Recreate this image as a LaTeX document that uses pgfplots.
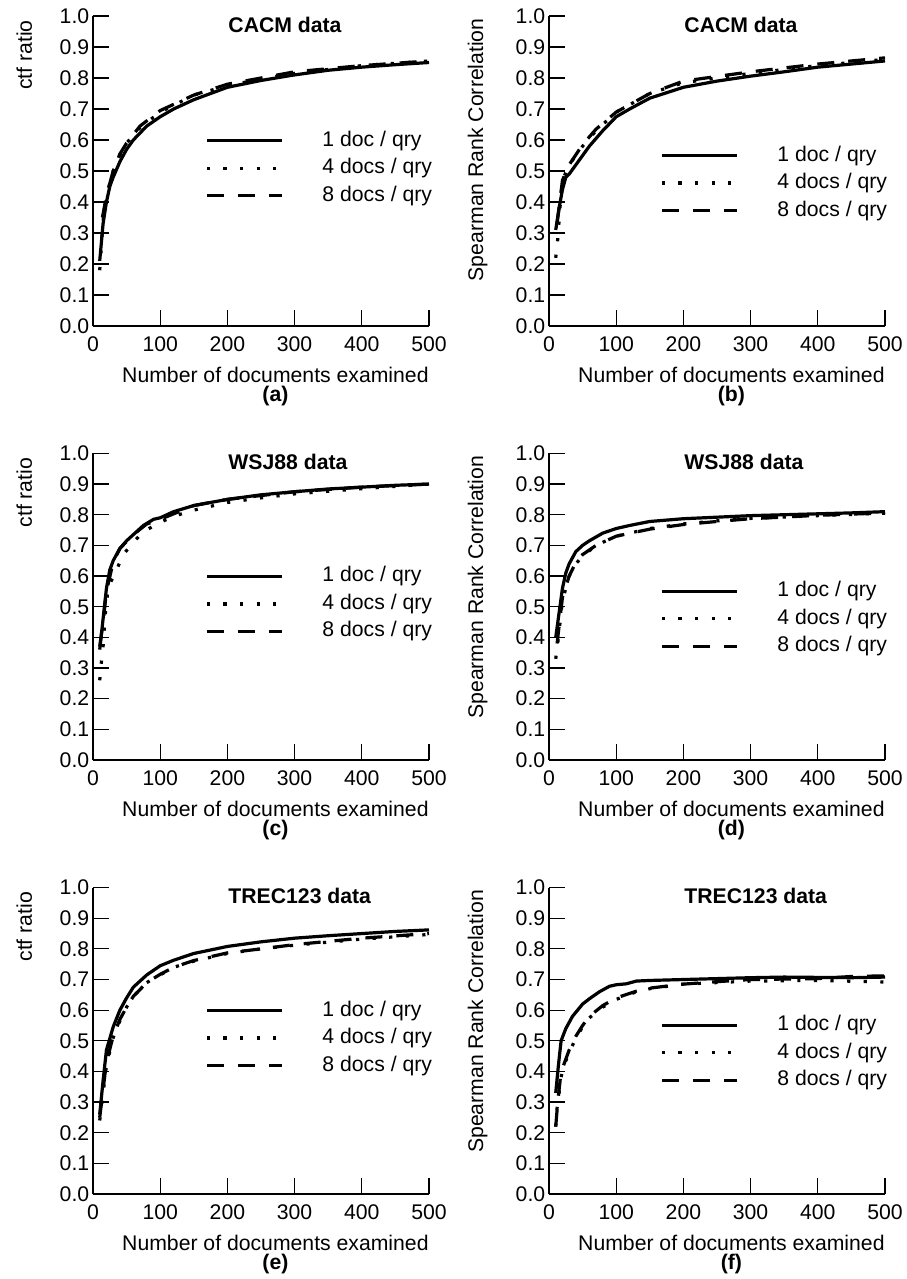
\documentclass[border=0pt]{standalone}
\usepackage{pgfplots}
\pgfplotsset{compat=1.18}
\usepackage{fontspec}
\setmainfont{Liberation Sans}
\setsansfont{Liberation Sans}

% one panel; the figure is laid out at 0.5pt per pixel of the reference
\pgfplotsset{
  panel/.style={
    scale only axis, width=168pt,
    xmin=0, xmax=500, ymin=0, ymax=1,
    axis lines=left, axis line style={-, line width=0.6pt},
    xtick={0,100,200,300,400,500},
    ytick={0,0.1,0.2,0.3,0.4,0.5,0.6,0.7,0.8,0.9,1},
    tick align=inside, major tick length=8pt,
    tick style={black, line width=0.6pt},
    scaled ticks=false,
    /pgf/number format/assume math mode=true,
    ticklabel style={font=\fontsize{10.6}{12}\selectfont},
    yticklabel style={/pgf/number format/fixed, /pgf/number format/fixed zerofill,
      /pgf/number format/precision=1, inner xsep=1.7pt},
    xticklabel style={yshift=-2pt},
    xlabel style={at={([yshift=-20.3pt]axis description cs:1,0)}, anchor=north east,
      inner sep=0pt, align=center, font=\fontsize{10.6}{9.6}\selectfont},
    ylabel style={anchor=base east, inner sep=0pt, font=\fontsize{10.6}{12}\selectfont},
    every axis title shift=0pt,
    title style={anchor=base west, inner sep=0pt,
      font=\bfseries\fontsize{10.6}{12}\selectfont},
    legend image code/.code={\draw[#1] (0pt,0pt) -- (37.5pt,0pt);},
    legend style={draw=none, fill=none, inner sep=0pt, anchor=west,
      row sep=3.25pt, column sep=19.5pt, font=\fontsize{10.6}{12}\selectfont,
      nodes={inner sep=0pt, text height=8pt, text depth=2.5pt}},
    legend cell align=left,
  },
  leftcol/.style={ylabel style={at={([xshift=-30.5pt,yshift=-2pt]axis description cs:0,1)}},
    title style={at={(axis description cs:0.402,0.947)}},
    legend style={at={(axis description cs:0.333,0.509)}}},
  rightcol/.style={ylabel style={at={([xshift=-33pt,yshift=-1pt]axis description cs:0,1)}},
    title style={at={(axis description cs:0.402,0.947)}},
    legend style={at={(axis description cs:0.330,0.461)}}},
  one/.style={black, line width=1.6pt},
  four/.style={black, line width=1.6pt, dash pattern=on 1.6pt off 6.7pt},
  eight/.style={black, line width=1.6pt, dash pattern=on 8.5pt off 7pt},
}

\begin{document}
\begin{tikzpicture}
\useasboundingbox (0,0) rectangle (453pt,-639.5pt);

% (a)
\begin{axis}[panel, leftcol, at={(46.5pt,-163pt)}, anchor=south west, height=155pt,
  title={CACM data}, ylabel={ctf ratio},
  xlabel={Number of documents examined\\\textbf{(a)}}]
\addplot[one] coordinates {(10,0.21) (15,0.33) (20,0.40) (25,0.45) (30,0.48) (40,0.53) (50,0.57) (60,0.60) (80,0.645) (100,0.675) (120,0.70) (150,0.73) (200,0.77) (250,0.792) (300,0.81) (350,0.825) (400,0.835) (450,0.843) (500,0.85)};
\addplot[four] coordinates {(10,0.18) (15,0.34) (20,0.42) (30,0.50) (40,0.55) (50,0.59) (70,0.64) (100,0.69) (150,0.745) (200,0.775) (250,0.797) (300,0.815) (400,0.84) (500,0.855)};
\addplot[eight] coordinates {(14,0.35) (20,0.42) (30,0.50) (40,0.555) (50,0.59) (70,0.645) (100,0.695) (150,0.745) (200,0.78) (250,0.80) (300,0.82) (400,0.84) (500,0.855)};
\legend{1 doc / qry, 4 docs / qry, 8 docs / qry}
\end{axis}

% (b)
\begin{axis}[panel, rightcol, at={(274.5pt,-163pt)}, anchor=south west, height=155pt,
  title={CACM data}, ylabel={Spearman Rank Correlation},
  xlabel={Number of documents examined\\\textbf{(b)}}]
\addplot[one] coordinates {(10,0.31) (15,0.38) (20,0.44) (25,0.48) (30,0.49) (40,0.52) (50,0.55) (60,0.58) (80,0.63) (100,0.675) (120,0.70) (150,0.735) (200,0.77) (250,0.79) (300,0.806) (350,0.82) (400,0.835) (450,0.845) (500,0.855)};
\addplot[four] coordinates {(10,0.22) (13,0.28) (17,0.40) (20,0.47) (30,0.52) (50,0.58) (70,0.63) (100,0.69) (150,0.75) (200,0.785) (300,0.815) (400,0.84) (500,0.86)};
\addplot[eight] coordinates {(12,0.33) (20,0.47) (30,0.52) (50,0.585) (70,0.635) (100,0.69) (150,0.75) (200,0.79) (300,0.82) (400,0.845) (500,0.865)};
\legend{1 doc / qry, 4 docs / qry, 8 docs / qry}
\end{axis}

% (c)
\begin{axis}[panel, leftcol, at={(46.5pt,-380pt)}, anchor=south west, height=153.3pt,
  title={WSJ88 data}, ylabel={ctf ratio},
  xlabel={Number of documents examined\\\textbf{(c)}}]
\addplot[one] coordinates {(10,0.36) (13,0.42) (17,0.50) (20,0.56) (25,0.62) (30,0.65) (40,0.69) (50,0.715) (60,0.735) (75,0.765) (90,0.785) (100,0.79) (120,0.81) (150,0.83) (200,0.85) (250,0.865) (300,0.875) (350,0.884) (400,0.89) (450,0.896) (500,0.90)};
\addplot[four] coordinates {(10,0.26) (12,0.31) (15,0.37) (18,0.47) (22,0.55) (25,0.575) (35,0.62) (45,0.67) (60,0.71) (75,0.745) (100,0.775) (120,0.795) (150,0.815) (200,0.84) (250,0.855) (300,0.868) (400,0.885) (500,0.90)};
\addplot[eight] coordinates {(10,0.37) (15,0.45) (20,0.55) (30,0.645) (40,0.69) (60,0.735) (80,0.77) (100,0.785) (150,0.83) (200,0.85) (300,0.875) (400,0.89) (500,0.90)};
\legend{1 doc / qry, 4 docs / qry, 8 docs / qry}
\end{axis}

% (d)
\begin{axis}[panel, rightcol, at={(274.5pt,-380pt)}, anchor=south west, height=153.3pt,
  title={WSJ88 data}, ylabel={Spearman Rank Correlation},
  xlabel={Number of documents examined\\\textbf{(d)}}]
\addplot[one] coordinates {(10,0.40) (15,0.48) (20,0.56) (25,0.61) (30,0.64) (40,0.68) (50,0.70) (60,0.715) (80,0.74) (100,0.755) (120,0.765) (150,0.778) (200,0.787) (250,0.792) (300,0.797) (350,0.80) (400,0.803) (450,0.806) (500,0.81)};
\addplot[four] coordinates {(10,0.33) (13,0.38) (20,0.52) (30,0.60) (40,0.64) (50,0.665) (70,0.70) (100,0.73) (150,0.755) (200,0.77) (250,0.78) (300,0.788) (400,0.797) (500,0.805)};
\addplot[eight] coordinates {(12,0.38) (20,0.53) (30,0.60) (40,0.645) (50,0.67) (70,0.70) (100,0.73) (150,0.753) (200,0.768) (250,0.778) (300,0.787) (400,0.798) (500,0.806)};
\legend{1 doc / qry, 4 docs / qry, 8 docs / qry}
\end{axis}

% (e)
\begin{axis}[panel, leftcol, at={(46.5pt,-597pt)}, anchor=south west, height=153.2pt,
  title={TREC123 data}, ylabel={ctf ratio},
  xlabel={Number of documents examined\\\textbf{(e)}}]
\addplot[one] coordinates {(10,0.26) (15,0.37) (20,0.47) (30,0.545) (40,0.60) (50,0.64) (60,0.675) (80,0.715) (100,0.745) (120,0.763) (150,0.785) (200,0.808) (250,0.823) (300,0.835) (350,0.843) (400,0.85) (450,0.857) (500,0.862)};
\addplot[four] coordinates {(10,0.24) (15,0.33) (20,0.42) (30,0.51) (40,0.565) (50,0.61) (60,0.645) (80,0.69) (100,0.715) (120,0.74) (150,0.76) (200,0.785) (250,0.80) (300,0.812) (400,0.832) (500,0.847)};
\addplot[eight] coordinates {(10,0.25) (15,0.34) (20,0.43) (30,0.515) (40,0.57) (50,0.61) (60,0.645) (80,0.69) (100,0.717) (120,0.74) (150,0.762) (200,0.787) (250,0.80) (300,0.814) (400,0.835) (500,0.85)};
\legend{1 doc / qry, 4 docs / qry, 8 docs / qry}
\end{axis}

% (f)
\begin{axis}[panel, rightcol, at={(274.5pt,-597pt)}, anchor=south west, height=153.2pt,
  title={TREC123 data}, ylabel={Spearman Rank Correlation},
  xlabel={Number of documents examined\\\textbf{(f)}}]
\addplot[one] coordinates {(10,0.33) (14,0.42) (18,0.50) (25,0.54) (35,0.58) (50,0.62) (60,0.637) (75,0.66) (90,0.678) (100,0.683) (115,0.686) (130,0.695) (150,0.697) (200,0.70) (250,0.703) (300,0.706) (350,0.708) (400,0.707) (450,0.706) (500,0.708)};
\addplot[four] coordinates {(10,0.22) (12,0.28) (15,0.33) (20,0.41) (30,0.46) (40,0.51) (50,0.545) (60,0.575) (80,0.61) (100,0.635) (130,0.66) (150,0.67) (200,0.685) (250,0.69) (300,0.695) (400,0.697) (500,0.692)};
\addplot[eight] coordinates {(10,0.22) (13,0.30) (17,0.38) (20,0.41) (30,0.47) (40,0.515) (50,0.55) (60,0.58) (80,0.615) (100,0.64) (130,0.662) (150,0.672) (200,0.685) (250,0.693) (300,0.70) (400,0.703) (450,0.71) (500,0.712)};
\legend{1 doc / qry, 4 docs / qry, 8 docs / qry}
\end{axis}
\end{tikzpicture}
\end{document}
